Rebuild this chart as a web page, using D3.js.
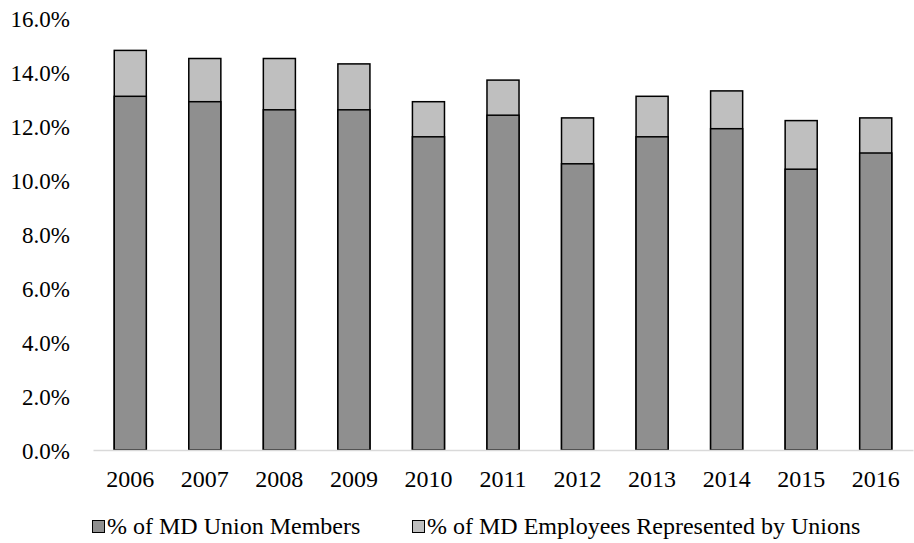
<!DOCTYPE html>
<html>
<head>
<meta charset="utf-8">
<script src="https://cdn.jsdelivr.net/npm/d3@7"></script>
<style>
  body { margin: 0; background: #fff; }
  svg text { font-family: 'Liberation Serif', 'Times New Roman', serif; fill: #000; }
</style>
</head>
<body>
<svg width="914" height="543"></svg>
<script>
const years = ['2006', '2007', '2008', '2009', '2010', '2011', '2012', '2013', '2014', '2015', '2016'];
const members = [13.1, 12.9, 12.6, 12.6, 11.6, 12.4, 10.6, 11.6, 11.9, 10.4, 11.0];
const represented = [14.8, 14.5, 14.5, 14.3, 12.9, 13.7, 12.3, 13.1, 13.3, 12.2, 12.3];
const yTicks = [0, 2, 4, 6, 8, 10, 12, 14, 16];
const seriesNames = ['% of MD Union Members', '% of MD Employees Represented by Unions'];

const svg = d3.select('svg');
const margin = { top: 18, left: 93, right: 1, bottom: 93 };
const width = +svg.attr('width');
const height = +svg.attr('height');
const innerWidth = width - margin.left - margin.right;
const innerHeight = height - margin.top - margin.bottom;

const colors = ['#8f8f8f', '#bfbfbf'];

const xScale = d3.scaleBand()
  .domain(years)
  .range([0, innerWidth])
  .paddingInner(0.57)
  .paddingOuter(0.285);

const yScale = d3.scaleLinear()
  .domain([0, 16])
  .range([innerHeight, 0]);

const root = svg.append('g')
  .attr('transform', `translate(${margin.left}, ${margin.top})`);

// y tick labels (no axis line)
root.selectAll('.ylab')
  .data(yTicks)
  .enter()
  .append('text')
    .attr('class', 'ylab')
    .attr('x', -23)
    .attr('y', d => yScale(d))
    .attr('dy', '0.4em')
    .attr('text-anchor', 'end')
    .style('font-size', '23px')
    .text(d => d.toFixed(1) + '%');

const rows = years.map((y, i) => ({ year: y, m: members[i], r: represented[i] }));

// represented (light, full height)
root.selectAll('.rep')
  .data(rows)
  .enter()
  .append('rect')
    .attr('class', 'rep')
    .attr('x', d => xScale(d.year))
    .attr('width', xScale.bandwidth())
    .attr('y', d => yScale(d.r))
    .attr('height', d => yScale(0) - yScale(d.r))
    .attr('fill', colors[1])
    .attr('stroke', '#000')
    .attr('stroke-width', 1.5);

// members (dark)
root.selectAll('.mem')
  .data(rows)
  .enter()
  .append('rect')
    .attr('class', 'mem')
    .attr('x', d => xScale(d.year))
    .attr('width', xScale.bandwidth())
    .attr('y', d => yScale(d.m))
    .attr('height', d => yScale(0) - yScale(d.m))
    .attr('fill', colors[0])
    .attr('stroke', '#000')
    .attr('stroke-width', 1.5);

// x axis
const xAxis = d3.axisBottom(xScale).tickSize(0).tickPadding(20);
const xAxisGroup = root.append('g')
  .attr('transform', `translate(0, ${innerHeight})`)
  .call(xAxis);
xAxisGroup.select('.domain')
  .attr('stroke', '#d9d9d9')
  .attr('stroke-width', 1.5);
xAxisGroup.selectAll('text')
  .style('font-size', '24px')
  .style('font-family', "'Liberation Serif', 'Times New Roman', serif");

// legend
const legendX = [92, 412];
const legend = svg.selectAll('.legend')
  .data(seriesNames)
  .enter()
  .append('g')
    .attr('class', 'legend')
    .attr('transform', (d, i) => `translate(${legendX[i]}, 526)`);

legend.append('rect')
  .attr('x', 0.5)
  .attr('y', -5.5)
  .attr('width', 12)
  .attr('height', 12)
  .attr('fill', (d, i) => colors[i])
  .attr('stroke', '#000')
  .attr('stroke-width', 1);

legend.append('text')
  .attr('x', 15)
  .attr('dy', '0.35em')
  .style('font-size', '24px')
  .text(d => d);
</script>
</body>
</html>
